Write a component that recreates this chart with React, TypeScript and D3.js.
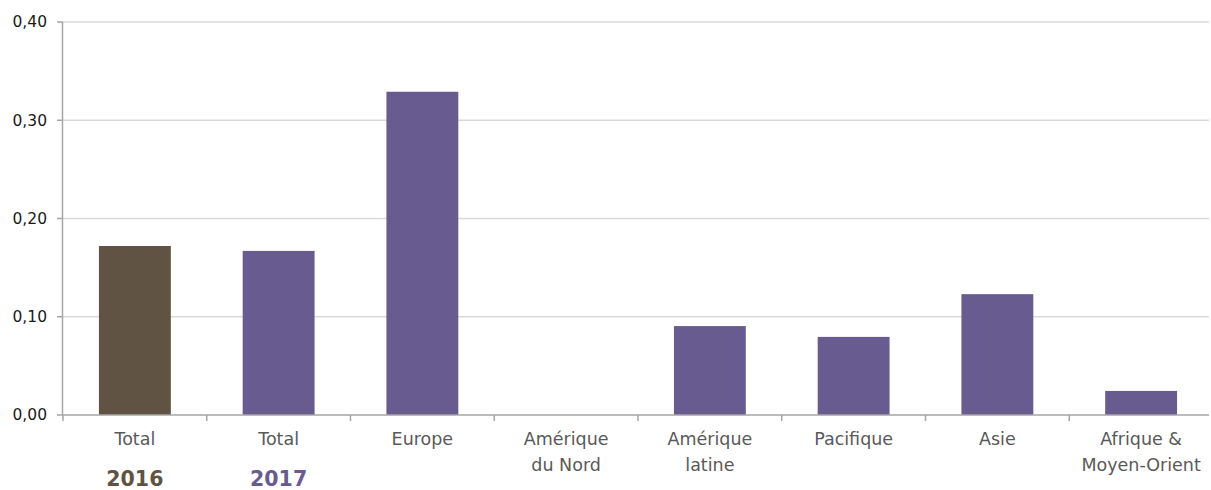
import React from "react";
import * as d3 from "d3";

const categories: string[][] = [
  ["Total"],
  ["Total"],
  ["Europe"],
  ["Amérique", "du Nord"],
  ["Amérique", "latine"],
  ["Pacifique"],
  ["Asie"],
  ["Afrique &", "Moyen-Orient"],
];
const values: number[] = [0.172, 0.167, 0.329, 0, 0.0905, 0.0795, 0.123, 0.0245];
const years: string[] = ["2016", "2017", "2017", "2017", "2017", "2017", "2017", "2017"];
const yearLabels: { text: string; index: number }[] = [
  { text: "2016", index: 0 },
  { text: "2017", index: 1 },
];
const yTicks: number[] = [0, 0.1, 0.2, 0.3, 0.4];

const yearColor: Record<string, string> = { "2016": "#615343", "2017": "#685b8f" };

const W = 1211;
const H = 490;
const margin = { left: 63, top: 22, bottom: 75 };
const plotRight = 1213;
const gridRight = 1209;

export default function App() {
  const x = d3
    .scaleBand<number>()
    .domain(d3.range(categories.length))
    .range([margin.left, plotRight])
    .paddingInner(0.5)
    .paddingOuter(0.25);
  const y = d3.scaleLinear().domain([0, 0.4]).range([H - margin.bottom, margin.top]);
  const fmt = (v: number) => d3.format(".2f")(v).replace(".", ",");
  const step = x.step();
  const y0 = y(0);
  const font = "'DejaVu Sans', Verdana, sans-serif";

  return (
    <svg
      width={W}
      height={H}
      style={{ position: "absolute", left: 0, top: 0, background: "#fff" }}
      fontFamily={font}
    >
      {/* gridlines */}
      {yTicks.slice(1).map((t) => (
        <line key={t} x1={margin.left} x2={gridRight} y1={y(t)} y2={y(t)} stroke="#d9d9d9" strokeWidth={1.5} />
      ))}
      {/* bars */}
      {values.map((v, i) => (
        <rect
          key={i}
          x={x(i)!}
          y={y(v)}
          width={x.bandwidth()}
          height={y0 - y(v)}
          fill={yearColor[years[i]]}
        />
      ))}
      {/* y axis */}
      <line x1={margin.left - 0.5} x2={margin.left - 0.5} y1={margin.top} y2={y0} stroke="#a6a6a6" strokeWidth={1.5} />
      {yTicks.map((t) => (
        <g key={t}>
          <line x1={margin.left - 6} x2={margin.left} y1={y(t)} y2={y(t)} stroke="#a6a6a6" strokeWidth={1.5} />
          <text x={47} y={y(t)} dy="0.35em" textAnchor="end" fontSize={15.5} fill="#1a1a1a">
            {fmt(t)}
          </text>
        </g>
      ))}
      {/* x axis */}
      <line x1={margin.left} x2={gridRight} y1={y0} y2={y0} stroke="#a6a6a6" strokeWidth={1.5} />
      {d3.range(categories.length + 1).map((i) => (
        <line
          key={i}
          x1={margin.left + i * step}
          x2={margin.left + i * step}
          y1={y0}
          y2={y0 + 6}
          stroke="#a6a6a6"
          strokeWidth={1.5}
        />
      ))}
      {categories.map((lines, i) => (
        <text key={i} x={x(i)! + x.bandwidth() / 2} y={445} textAnchor="middle" fontSize={17.5} fill="#595959">
          {lines.map((l, j) => (
            <tspan key={j} x={x(i)! + x.bandwidth() / 2} dy={j === 0 ? 0 : 26}>
              {l}
            </tspan>
          ))}
        </text>
      ))}
      {yearLabels.map((yl) => (
        <text
          key={yl.text}
          x={x(yl.index)! + x.bandwidth() / 2}
          y={486}
          textAnchor="middle"
          fontSize={20.5}
          fontWeight="bold"
          fill={yearColor[yl.text]}
        >
          {yl.text}
        </text>
      ))}
    </svg>
  );
}
